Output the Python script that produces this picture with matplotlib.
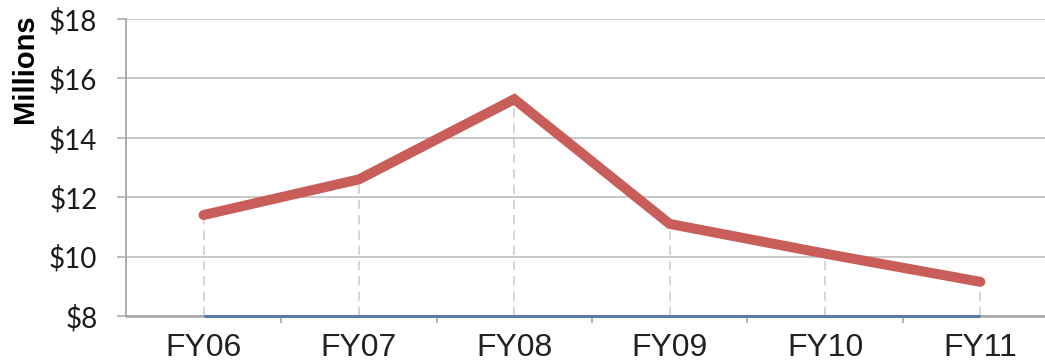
"""
Annual funding trend, FY06-FY11, in millions of dollars.
"""

import matplotlib
matplotlib.use("Agg")
import matplotlib.pyplot as plt


FISCAL_YEARS = ["FY06", "FY07", "FY08", "FY09", "FY10", "FY11"]
FUNDING = [11.4, 12.6, 15.3, 11.1, 10.1, 9.15]
FLOOR_SERIES = [8, 8, 8, 8, 8, 8]
Y_TICKS = [8, 10, 12, 14, 16, 18]
Y_LABELS = ["$8", "$10", "$12", "$14", "$16", "$18"]

LINE_RED = "#C95D5A"
AXIS_BLUE = "#557DA8"
GRID_GREY = "#C4C4C4"


# ──────────────────────────────────────────────
# Figure / axes layout
# ──────────────────────────────────────────────
fig = plt.figure(figsize=(10.45, 3.64), dpi=100)
ax = fig.add_axes([0.1205, 0.1319, 0.892, 0.8159])

x = list(range(len(FISCAL_YEARS)))

ax.set_xlim(-0.5, len(FISCAL_YEARS) - 0.5)
ax.set_ylim(8, 18)

# horizontal gridlines
ax.set_yticks(Y_TICKS)
ax.set_yticklabels(Y_LABELS, family="Lato", fontsize=20, color="#1a1a1a")
ax.yaxis.grid(True, color=GRID_GREY, linewidth=1.3)
ax.set_axisbelow(True)

# dashed drop lines from each point down to the axis
ax.vlines(x, FLOOR_SERIES, FUNDING, colors="#CACACA", linewidth=1.1,
          linestyles=(0, (6, 4)), zorder=2)

# second series sitting on the axis floor
ax.plot(x, FLOOR_SERIES, color=AXIS_BLUE, linewidth=2.2, zorder=3,
        clip_on=False, solid_capstyle="butt")

# main series
ax.plot(x, FUNDING, color=LINE_RED, linewidth=7.2, zorder=4,
        solid_capstyle="round", solid_joinstyle="miter")

# x ticks at category boundaries, labels centred on categories
ax.set_xticks([i + 0.5 for i in x[:-1]], minor=False)
ax.set_xticklabels([])
ax.set_xticks(x, minor=True)
ax.set_xticklabels(FISCAL_YEARS, minor=True, family="Liberation Sans",
                   fontsize=23, color="#222222")
ax.tick_params(axis="x", which="major", length=5, width=1.2, color="#A6A6A6",
               direction="out")
ax.tick_params(axis="x", which="minor", length=0, pad=12)
ax.tick_params(axis="y", length=6.5, width=1.2, color="#B0B0B0", pad=14)

for side in ("top", "right"):
    ax.spines[side].set_visible(False)
ax.spines["left"].set_color("#A6A6A6")
ax.spines["left"].set_linewidth(1.3)
ax.spines["bottom"].set_color("#A6A6A6")
ax.spines["bottom"].set_linewidth(1.8)

fig.text(0.024, 0.81, "Millions", rotation=90, ha="center", va="center",
         family="Liberation Sans", fontweight="bold", fontsize=21)

fig.savefig("out.png", dpi=100)
